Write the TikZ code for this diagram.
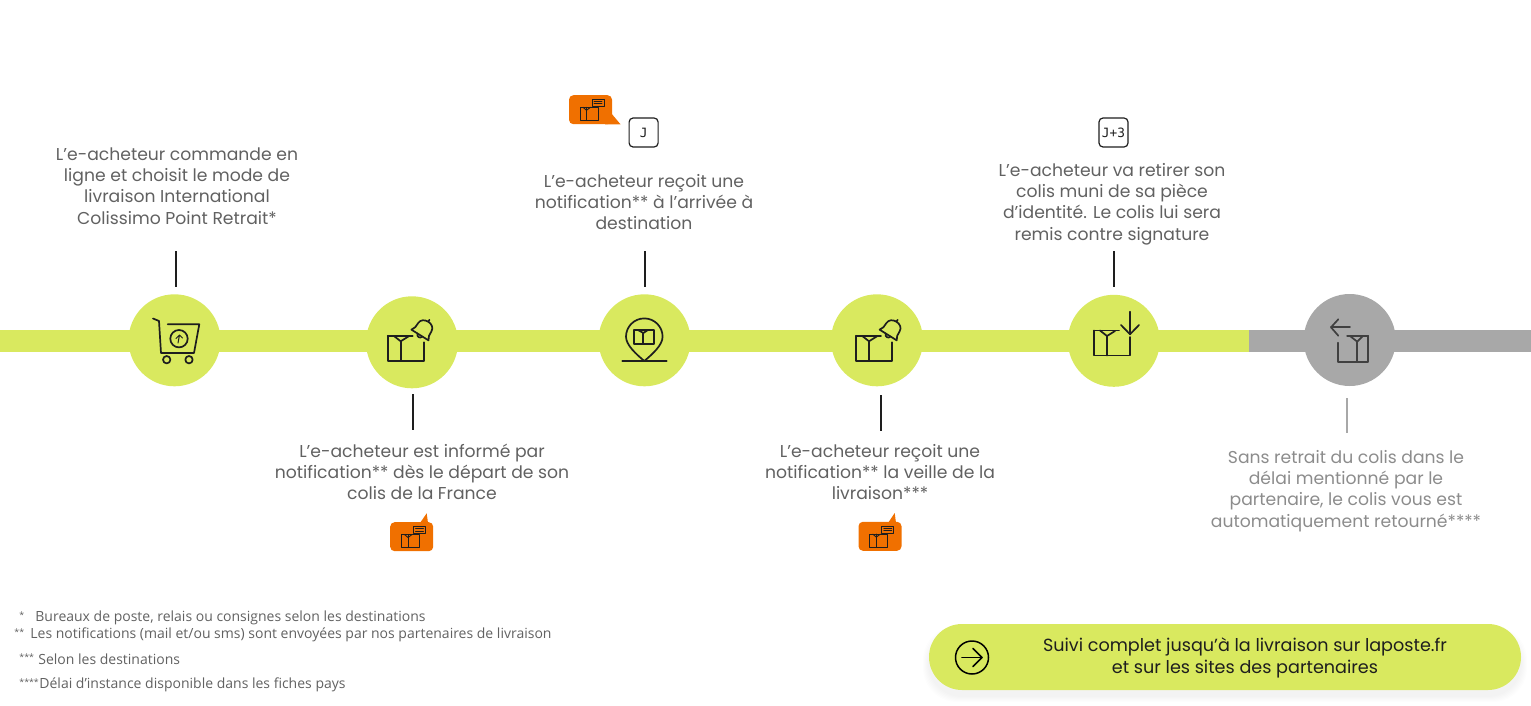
\documentclass[tikz,border=0pt]{standalone}
\usepackage{fontspec}
\setmainfont{Poppins}
\newfontfamily\notefont{Open Sans}
\newfontfamily\tagfont{DejaVu Sans Mono}
\usepackage{tikz}
\usetikzlibrary{arrows.meta,backgrounds}
\definecolor{lime}{HTML}{D9E95F}
\definecolor{ash}{HTML}{A8A8A8}
\definecolor{tangerine}{HTML}{F07000}
\definecolor{ink}{HTML}{1E1E1E}
\tikzset{%
  StepDot/.style={circle,fill=lime,minimum size=46pt,inner sep=0pt},
  StepText/.style={align=center,text=black!62,font=\fontsize{8.6}{10.65}\selectfont},
  Tick/.style={draw=ink,line width=0.7pt},
  Icon/.style={draw=ink,line width=0.85pt,line join=round,line cap=round},
  NoteText/.style={anchor=west,text=black!62,inner sep=0pt,font=\notefont\fontsize{7}{8}\selectfont},
  NoteStar/.style={NoteText,font=\notefont\fontsize{4.4}{6}\selectfont},
  Bubble/.style={fill=tangerine,rounded corners=2.2pt,minimum width=21.5pt,minimum height=14.5pt,inner sep=0pt},
  DayTag/.style={draw=ink,fill=white,line width=0.6pt,rounded corners=2pt,minimum size=14.5pt,inner sep=0pt,text=ink,font=\tagfont\fontsize{6.4}{7}\selectfont},
  boxicon/.pic={
    \draw [Icon] (-18,-12.5) -- (-18,12.5) -- (18,12.5) -- (18,-6);
    \draw [Icon] (-18,-12.5) -- (7,-12.5);
    \draw [Icon] (-5,-7) -- (-5,12.5);
    \draw [Icon] (-12,-12.5) -- (-5,-7) -- (3,-12);
  },
  bellicon/.pic={
    \draw [Icon,rotate=-32,scale=1.12] (-9,6) .. controls (-7,4) and (-7,1) .. (-7,-2)
      .. controls (-7,-6) and (-3.5,-8) .. (0,-8) .. controls (3.5,-8) and (7,-6) .. (7,-2)
      .. controls (7,1) and (7,4) .. (9,6) -- cycle;
    \draw [Icon,rotate=-32,scale=1.12] (0,-8) -- (0,-10);
    \draw [Icon,rotate=-32,scale=1.12] (-2.5,6) .. controls (-2,9) and (2,9) .. (2.5,6);
  },
  minibox/.pic={
    \draw [Icon,line width=0.45pt] (-9,-6.5) -- (-9,6.5) -- (9,6.5) -- (9,-6.5) -- cycle;
    \draw [Icon,line width=0.45pt] (-2.5,-6.5) -- (-2.5,6.5);
    \draw [Icon,line width=0.45pt] (-6,-6.5) -- (-2.5,-3.5) -- (1.5,-6.5);
    \draw [Icon,line width=0.45pt] (3,-14.5) rectangle (15,-7.5);
    \draw [Icon,line width=0.35pt] (5,-12.5) -- (13,-12.5) (5,-10) -- (13,-10);
  }
}

\begin{document}
\begin{tikzpicture}[x=0.5pt,y=-0.5pt]
\useasboundingbox (0,0) rectangle (1531,706);

\fill [lime] (0,330) rectangle (1249,352);
\fill [ash] (1249,330) rectangle (1531,352);

\node (c1) [StepDot] at (174.5,340.3) {};
\node (c2) [StepDot] at (412,342.3) {};
\node (c3) [StepDot] at (644.5,340.3) {};
\node (c4) [StepDot] at (877,340.3) {};
\node (c5) [StepDot] at (1113.8,340.8) {};
\node (c6) [StepDot,fill=ash] at (1349.7,340) {};

\node (t1) [StepText] at (177,186) {L’e-acheteur commande en\\ligne et choisit le mode de\\livraison International\\Colissimo Point Retrait*};
\node (t2) [StepText] at (422,472) {L’e-acheteur est informé par\\notification** dès le départ de son\\colis de la France};
\node (t3) [StepText] at (644,202) {L’e-acheteur reçoit une\\notification** à l’arrivée à\\destination};
\node (t4) [StepText] at (880,472) {L’e-acheteur reçoit une\\notification** la veille de la\\livraison***};
\node (t5) [StepText] at (1112,204) {L’e-acheteur va retirer son\\colis muni de sa pièce\\d’identité. Le colis lui sera\\remis contre signature};
\node (t6) [StepText,text=black!45] at (1346,491) {Sans retrait du colis dans le\\délai mentionné par le\\partenaire, le colis vous est\\automatiquement retourné****};

\foreach \n/\x/\ya/\yb in {1/176/251/287,2/413/394/430,3/645/251/287,4/881/395/431,5/1114/251/287} {
    \coordinate (a\n) at (\x,\ya);
    \coordinate (b\n) at (\x,\yb);
    \draw [Tick] (a\n) -- (b\n);
}
\coordinate (a6) at (1347,398);
\coordinate (b6) at (1347,433);
\draw [Tick,draw=ash] (a6) -- (b6);

% cart
\draw [Icon] (153,318.5) -- (159,321) -- (161,353) -- (194,353) -- (199.3,324.3) -- (167.7,324.3);
\draw [Icon] (166.7,359.7) circle (3.7);
\draw [Icon] (189,359.7) circle (3.7);
\draw [Icon] (179,338.7) circle (8.7);
\draw [Icon,line width=0.5pt] (178,343) -- (179.5,335) -- (176,338.5) (179.5,335) -- (182.5,338);

\pic at (405.7,348.3) {boxicon};
\pic at (423.5,329.3) {bellicon};
\pic at (874,348.3) {boxicon};
\pic at (891.7,329.3) {bellicon};

% pin
\draw [Icon] (644.3,361) .. controls (636,354) and (626,345) .. (626,336.7) arc (180:360:18.3)
  .. controls (662.6,345) and (652.6,354) .. (644.3,361);
\draw [Icon] (622.3,361) -- (666.7,361);
\draw [Icon] (634.3,330) rectangle (654.3,344);
\draw [Icon] (643.3,333) -- (643.3,344);
\draw [Icon] (638,330) -- (643.3,333) -- (648,330);

% pick up and return
\pic at (1112,343) {boxicon};
\draw [Icon] (1130,311.7) -- (1130,334.3);
\draw [Icon] (1121,325) -- (1130,334.3) -- (1139,325);
\pic [xscale=-0.84,yscale=1.05,Icon/.append style={draw=black!75}] at (1353,349) {boxicon};
\draw [Icon,draw=black!75] (1350,327.3) -- (1331,327.3);
\draw [Icon,draw=black!75] (1338.3,319.3) -- (1331,327.3) -- (1338.3,335.7);

% bubbles
\node (b1) [Bubble] at (590.5,109.7) {};
\fill [tangerine] (611,113) -- (620.5,124.3) -- (605,124.3) -- cycle;
\pic at (589,113.8) {minibox};
\node (b2) [Bubble] at (411.7,536.7) {};
\fill [tangerine] (420,523) -- (426.7,513.3) -- (428,523) -- cycle;
\pic at (410.5,541) {minibox};
\node (b3) [Bubble] at (880,536.3) {};
\fill [tangerine] (888,523) -- (894.7,513) -- (896,523) -- cycle;
\pic at (878.8,540.6) {minibox};

\node (j0) [DayTag] at (643.6,132.5) {J};
\node (j3) [DayTag] at (1113.5,132.5) {J+3};

% notes
\node (n1) [NoteStar] at (19,615) {*};
\node (n1t) [NoteText] at (35,618) {Bureaux de poste, relais ou consignes selon les destinations};
\node (n2) [NoteStar] at (14,632) {**};
\node (n2t) [NoteText] at (30,635) {Les notifications (mail et/ou sms) sont envoyées par nos partenaires de livraison};
\node (n3) [NoteStar] at (19,657) {***};
\node (n3t) [NoteText] at (38,659) {Selon les destinations};
\node (n4) [NoteStar] at (19,682) {****};
\node (n4t) [NoteText] at (39,685) {Délai d’instance disponible dans les fiches pays};

% button
\foreach \s in {1,...,6} {
    \fill [black,opacity=0.008,rounded corners=17pt] (929-\s,624+8-\s) rectangle (1521+\s,690+6+\s);
}
\node (btn) [fill=lime,rounded corners=16.5pt,minimum width=296pt,minimum height=33pt,inner sep=0pt] at (1225,657) {};
\node (btnt) [align=center,text=ink,font=\fontsize{8.8}{11}\selectfont] at (1245,658) {Suivi complet jusqu’à la livraison sur laposte.fr\\et sur les sites des partenaires};
\node (go) [circle,draw=black,line width=0.75pt,minimum size=16.5pt,inner sep=0pt] at (972,657.5) {};
\draw [Icon,draw=black] (962,657.5) -- (982,657.5);
\draw [Icon,draw=black] (973,648.5) -- (982,657.5) -- (973,666.5);
\end{tikzpicture}
\end{document}
